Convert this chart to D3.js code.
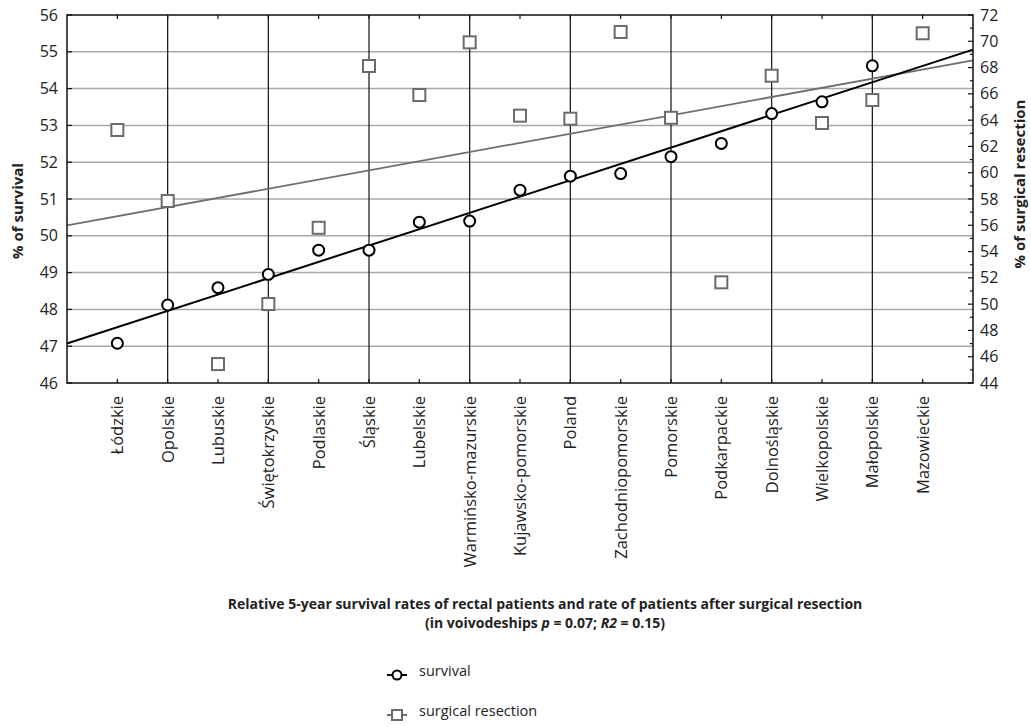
<!DOCTYPE html>
<html lang="en">
<head>
<meta charset="UTF-8">
<title>Survival vs surgical resection</title>
<style>
body { margin: 0; background: #fff; }
text { font-family: "Open Sans", "Noto Sans", sans-serif; fill: #222; }
</style>
</head>
<body>
<script src="https://cdn.jsdelivr.net/npm/d3@7"></script>
<script>
var regions = ['Łódzkie', 'Opolskie', 'Lubuskie', 'Świętokrzyskie', 'Podlaskie', 'Śląskie',
    'Lubelskie', 'Warmińsko-mazurskie', 'Kujawsko-pomorskie', 'Poland', 'Zachodniopomorskie',
    'Pomorskie', 'Podkarpackie', 'Dolnośląskie', 'Wielkopolskie', 'Małopolskie', 'Mazowieckie'];

// % of survival (left axis); Mazowieckie has no survival point
var survival = [47.08, 48.12, 48.59, 48.95, 49.61, 49.61, 50.37, 50.40, 51.24, 51.62,
    51.69, 52.15, 52.51, 53.32, 53.64, 54.62, null];

// % of surgical resection (right axis)
var resection = [63.25, 57.85, 45.44, 50.01, 55.81, 68.12, 65.91, 69.92, 64.34, 64.11,
    70.71, 64.18, 51.66, 67.38, 63.78, 65.53, 70.61];

var leftTicks = [46, 47, 48, 49, 50, 51, 52, 53, 54, 55, 56];
var rightTicks = [44, 46, 48, 50, 52, 54, 56, 58, 60, 62, 64, 66, 68, 70, 72];

var W = 1031, H = 727;
var m = { left: 67, top: 15, right: 58, bottom: 344 };
var pw = W - m.left - m.right, ph = H - m.top - m.bottom;

var svg = d3.select('body').append('svg')
    .attr('width', W).attr('height', H);

var g = svg.append('g').attr('transform', 'translate(' + m.left + ',' + m.top + ')');

// x as a linear position: category i sits at i + 1, frame spans 0..18
var x = d3.scaleLinear().domain([0, regions.length + 1]).range([0, pw]);
var yL = d3.scaleLinear().domain([46, 56]).range([ph, 0]);
var yR = d3.scaleLinear().domain([44, 72]).range([ph, 0]);

// horizontal gray grid
g.selectAll('.hgrid').data(leftTicks.slice(1, -1)).enter().append('line')
    .attr('x1', 0).attr('x2', pw)
    .attr('y1', function(d) { return yL(d); })
    .attr('y2', function(d) { return yL(d); })
    .attr('stroke', '#a8a8a8').attr('stroke-width', 1.5);

// vertical black grid every other category
g.selectAll('.vgrid').data(regions.filter(function(d, i) { return i % 2 === 1; })).enter().append('line')
    .attr('x1', function(d) { return x(regions.indexOf(d) + 1); })
    .attr('x2', function(d) { return x(regions.indexOf(d) + 1); })
    .attr('y1', 0).attr('y2', ph)
    .attr('stroke', '#111').attr('stroke-width', 1.2);

// regression lines across the frame
function fit(vals) {
    var pts = [];
    vals.forEach(function(v, i) { if (v != null) pts.push([i + 1, v]); });
    var mx = d3.mean(pts, function(p) { return p[0]; });
    var my = d3.mean(pts, function(p) { return p[1]; });
    var sxy = d3.sum(pts, function(p) { return (p[0] - mx) * (p[1] - my); });
    var sxx = d3.sum(pts, function(p) { return (p[0] - mx) * (p[0] - mx); });
    var b = sxy / sxx;
    return function(t) { return my + b * (t - mx); };
}
var fS = fit(survival), fR = fit(resection);
var ends = x.domain();

g.append('line')
    .attr('x1', x(ends[0])).attr('x2', x(ends[1]))
    .attr('y1', yR(fR(ends[0]))).attr('y2', yR(fR(ends[1])))
    .attr('stroke', '#6e6e6e').attr('stroke-width', 1.8);

g.append('line')
    .attr('x1', x(ends[0])).attr('x2', x(ends[1]))
    .attr('y1', yL(fS(ends[0]))).attr('y2', yL(fS(ends[1])))
    .attr('stroke', '#000').attr('stroke-width', 2);

// frame
g.append('rect').attr('width', pw).attr('height', ph)
    .attr('fill', 'none').attr('stroke', '#111').attr('stroke-width', 1.5);

// x ticks (inside, bottom and top)
regions.forEach(function(d, i) {
    g.append('line').attr('x1', x(i + 1)).attr('x2', x(i + 1))
        .attr('y1', ph).attr('y2', ph - 4).attr('stroke', '#111').attr('stroke-width', 1.2);
    g.append('line').attr('x1', x(i + 1)).attr('x2', x(i + 1))
        .attr('y1', 0).attr('y2', 4).attr('stroke', '#111').attr('stroke-width', 1.2);
});

// x labels rotated
g.selectAll('.xlab').data(regions).enter().append('text')
    .attr('transform', function(d, i) { return 'translate(' + (x(i + 1) + 6) + ',' + (ph + 13) + ') rotate(-90)'; })
    .attr('text-anchor', 'end')
    .style('font-size', '16.5px')
    .text(function(d) { return d; });

// left axis
var axL = g.append('g').call(d3.axisLeft(yL).tickValues(leftTicks).tickSize(0).tickPadding(9));
axL.select('.domain').remove();
axL.selectAll('text').style('font-size', '16px').style('font-family', '"Open Sans", sans-serif').attr('fill', '#222');
leftTicks.forEach(function(t) {
    g.append('line').attr('x1', 0).attr('x2', 5).attr('y1', yL(t)).attr('y2', yL(t))
        .attr('stroke', '#111').attr('stroke-width', 1.2);
});

// right axis with minor ticks
var axR = g.append('g').attr('transform', 'translate(' + pw + ',0)')
    .call(d3.axisRight(yR).tickValues(rightTicks).tickSize(0).tickPadding(7));
axR.select('.domain').remove();
axR.selectAll('text').style('font-size', '16px').style('font-family', '"Open Sans", sans-serif').attr('fill', '#222');
d3.range(44, 73).forEach(function(t) {
    var len = t % 2 === 0 ? 5 : 3;
    g.append('line').attr('x1', pw).attr('x2', pw - len).attr('y1', yR(t)).attr('y2', yR(t))
        .attr('stroke', '#111').attr('stroke-width', 1.2);
});

// axis titles
svg.append('text')
    .attr('transform', 'translate(23,' + (m.top + ph / 2 + 12) + ') rotate(-90)')
    .attr('text-anchor', 'middle')
    .style('font-size', '15px').style('font-weight', 'bold')
    .text('% of survival');
svg.append('text')
    .attr('transform', 'translate(1025,' + (m.top + ph / 2 - 15) + ') rotate(-90)')
    .attr('text-anchor', 'middle')
    .style('font-size', '15px').style('font-weight', 'bold')
    .text('% of surgical resection');

// squares (surgical resection)
g.selectAll('.sq').data(resection).enter().append('rect')
    .attr('x', function(d, i) { return x(i + 1) - 6; })
    .attr('y', function(d) { return yR(d) - 6; })
    .attr('width', 12).attr('height', 12)
    .attr('fill', '#fff').attr('stroke', '#6b6b6b').attr('stroke-width', 2);

// circles (survival)
g.selectAll('.pt').data(survival.map(function(v, i) { return { v: v, i: i }; })
        .filter(function(d) { return d.v != null; }))
    .enter().append('circle')
    .attr('cx', function(d) { return x(d.i + 1); })
    .attr('cy', function(d) { return yL(d.v); })
    .attr('r', 5.5)
    .attr('fill', '#fff').attr('stroke', '#000').attr('stroke-width', 2);

// title
var title = svg.append('text').attr('text-anchor', 'middle')
    .style('font-size', '14px').style('font-weight', 'bold');
title.append('tspan').attr('x', 545).attr('y', 609)
    .text('Relative 5-year survival rates of rectal patients and rate of patients after surgical resection');
var t2 = title.append('tspan').attr('x', 545).attr('y', 628);
t2.append('tspan').text('(in voivodeships ');
t2.append('tspan').style('font-style', 'italic').text('p');
t2.append('tspan').text(' = 0.07; ');
t2.append('tspan').style('font-style', 'italic').text('R2');
t2.append('tspan').text(' = 0.15)');

// legend
var legend = [{ name: 'survival', y: 675, color: '#000', shape: 'circle' },
    { name: 'surgical resection', y: 715, color: '#6b6b6b', shape: 'square' }];
legend.forEach(function(l) {
    var lg = svg.append('g').attr('transform', 'translate(397,' + l.y + ')');
    lg.append('line').attr('x1', -10).attr('x2', 10).attr('y1', 0).attr('y2', 0)
        .attr('stroke', l.color).attr('stroke-width', 2);
    if (l.shape === 'circle') {
        lg.append('circle').attr('r', 4.5).attr('fill', '#fff').attr('stroke', l.color).attr('stroke-width', 2);
    } else {
        lg.append('rect').attr('x', -5).attr('y', -5).attr('width', 10).attr('height', 10)
            .attr('fill', '#fff').attr('stroke', l.color).attr('stroke-width', 2);
    }
    lg.append('text').attr('x', 22).attr('y', 0).attr('dy', '0.1em')
        .style('font-size', '14.5px').text(l.name);
});
</script>
</body>
</html>
